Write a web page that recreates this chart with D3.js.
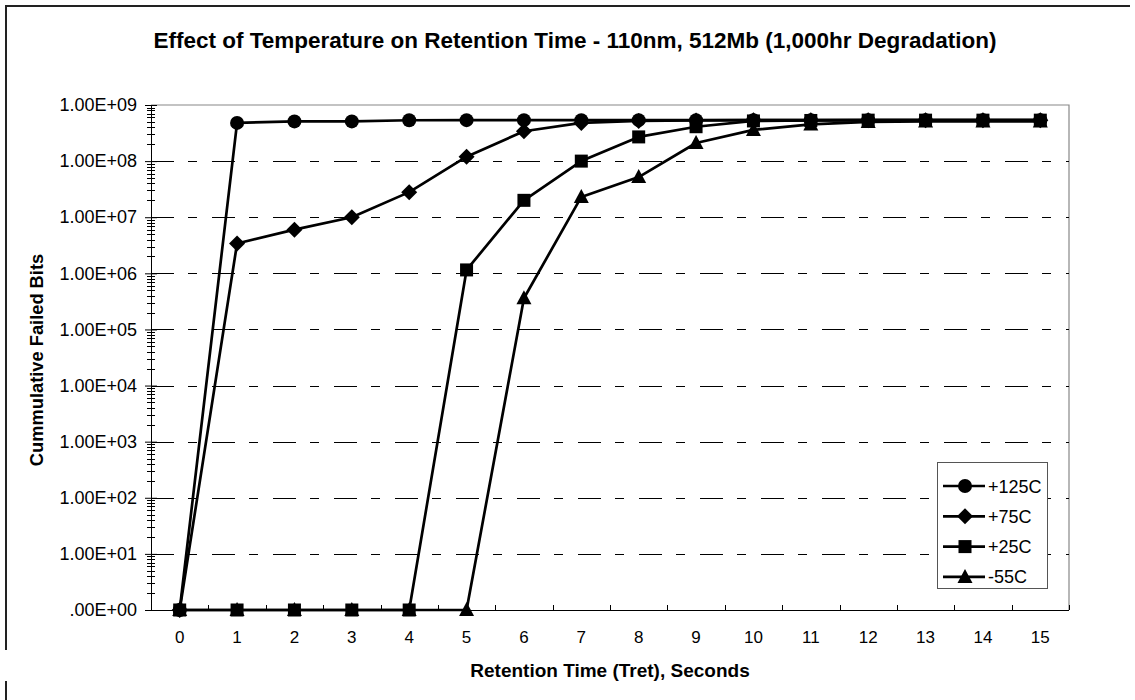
<!DOCTYPE html>
<html>
<head>
<meta charset="utf-8">
<script src="https://cdn.jsdelivr.net/npm/d3@7"></script>
<style>
  html, body { margin: 0; padding: 0; background: #fff; }
  svg { display: block; font-family: "Liberation Sans", Arial, sans-serif; }
</style>
</head>
<body>
<svg id="chart" width="1135" height="700"></svg>
<script>
// Retention time (seconds) categories
const retentionTimes = [0, 1, 2, 3, 4, 5, 6, 7, 8, 9, 10, 11, 12, 13, 14, 15];

// Cumulative failed bits per temperature
const temp125 = [1, 4.8e8, 5.1e8, 5.1e8, 5.35e8, 5.37e8, 5.37e8, 5.37e8, 5.37e8, 5.37e8, 5.37e8, 5.37e8, 5.37e8, 5.37e8, 5.37e8, 5.37e8];
const temp75  = [1, 3.4e6, 6.0e6, 1.0e7, 2.8e7, 1.2e8, 3.4e8, 4.8e8, 5.2e8, 5.3e8, 5.37e8, 5.37e8, 5.37e8, 5.37e8, 5.37e8, 5.37e8];
const temp25  = [1, 1, 1, 1, 1, 1.15e6, 2.0e7, 1.0e8, 2.7e8, 4.1e8, 5.2e8, 5.3e8, 5.37e8, 5.37e8, 5.37e8, 5.37e8];
const tempM55 = [1, 1, 1, 1, 1, 1, 3.6e5, 2.3e7, 5.2e7, 2.1e8, 3.6e8, 4.5e8, 5.0e8, 5.1e8, 5.1e8, 5.1e8];

const seriesNames = ["+125C", "+75C", "+25C", "-55C"];
const seriesSymbols = ["circle", "diamond", "square", "triangle"];

// Y axis tick values (decades) and their labels
const yTickValues = [1, 1e1, 1e2, 1e3, 1e4, 1e5, 1e6, 1e7, 1e8, 1e9];
const yTickLabels = [".00E+00", "1.00E+01", "1.00E+02", "1.00E+03", "1.00E+04",
                     "1.00E+05", "1.00E+06", "1.00E+07", "1.00E+08", "1.00E+09"];

const titleText = "Effect of Temperature on Retention Time - 110nm, 512Mb (1,000hr Degradation)";
const xTitle = "Retention Time (Tret), Seconds";
const yTitle = "Cummulative Failed Bits";

const seriesValues = [temp125, temp75, temp25, tempM55];

const svg = d3.select("#chart");
const plot = { left: 151, right: 1069, top: 105, bottom: 610 };

// outer frame pieces
svg.append("line").attr("x1", 6).attr("x2", 1130).attr("y1", 6).attr("y2", 6)
  .attr("stroke", "#222").attr("stroke-width", 2);
svg.append("line").attr("x1", 6).attr("x2", 6).attr("y1", 5).attr("y2", 650)
  .attr("stroke", "#222").attr("stroke-width", 2);
svg.append("line").attr("x1", 6).attr("x2", 6).attr("y1", 681).attr("y2", 700)
  .attr("stroke", "#222").attr("stroke-width", 2);

const x = d3.scaleBand().domain(retentionTimes).range([plot.left, plot.right]);
const xc = d => x(d) + x.bandwidth() / 2;
const y = d3.scaleLog().domain([1, 1e9]).range([plot.bottom, plot.top]);

// plot-area border (top and right)
svg.append("path")
  .attr("d", `M${plot.left},${plot.top}H${plot.right}V${plot.bottom}`)
  .attr("fill", "none").attr("stroke", "#888").attr("stroke-width", 1.2);

// dashed gridlines at each decade
svg.append("g").selectAll("line")
  .data(yTickValues.filter(v => v > 1 && v < 1e9))
  .join("line")
  .attr("x1", plot.left).attr("x2", plot.right)
  .attr("y1", d => Math.round(y(d)) + 0.5).attr("y2", d => Math.round(y(d)) + 0.5)
  .attr("stroke", "#000").attr("stroke-width", 1)
  .attr("stroke-dasharray", "23,14,9,15");

// Y axis with major ticks crossing the axis
const yAxis = d3.axisLeft(y).tickValues(yTickValues)
  .tickFormat((d, i) => yTickLabels[i]).tickSizeInner(6).tickSizeOuter(0).tickPadding(8);
const gy = svg.append("g").attr("transform", `translate(${plot.left},0)`).call(yAxis);
gy.select(".domain").attr("stroke", "#000");
gy.selectAll(".tick line").attr("x1", -6).attr("x2", 6);
gy.selectAll(".tick text").attr("font-size", 18).attr("fill", "#000")
  .attr("font-family", "'Liberation Sans', Arial, sans-serif");

// minor ticks 2..9 in each decade
const minor = [];
for (let e = 0; e < 9; e++) for (let m = 2; m <= 9; m++) minor.push(m * Math.pow(10, e));
svg.append("g").selectAll("line").data(minor).join("line")
  .attr("x1", plot.left - 4).attr("x2", plot.left + 4)
  .attr("y1", d => Math.round(y(d)) + 0.5).attr("y2", d => Math.round(y(d)) + 0.5)
  .attr("stroke", "#000").attr("stroke-width", 1);

// X axis: labels centered on categories, ticks at category boundaries
svg.append("line").attr("x1", plot.left).attr("x2", plot.right)
  .attr("y1", plot.bottom + 0.5).attr("y2", plot.bottom + 0.5).attr("stroke", "#000");
svg.append("g").selectAll("line").data(retentionTimes.slice(1).concat([null]))
  .join("line")
  .attr("x1", (d, i) => Math.round(x(retentionTimes[0]) + (i + 1) * x.bandwidth()) + 0.5)
  .attr("x2", (d, i) => Math.round(x(retentionTimes[0]) + (i + 1) * x.bandwidth()) + 0.5)
  .attr("y1", plot.bottom).attr("y2", plot.bottom - 5)
  .attr("stroke", "#000");
svg.append("g").selectAll("text").data(retentionTimes).join("text")
  .attr("x", d => xc(d)).attr("y", 643)
  .attr("text-anchor", "middle").attr("font-size", 17).attr("fill", "#000")
  .text(d => d);

// series lines and markers
const line = d3.line().x((d, i) => xc(retentionTimes[i])).y(d => y(d));
function drawSymbol(g, type, cx, cy) {
  if (type === "circle") {
    g.append("circle").attr("cx", cx).attr("cy", cy).attr("r", 7).attr("fill", "#000");
  } else if (type === "diamond") {
    g.append("path").attr("transform", `translate(${cx},${cy})`)
      .attr("d", "M0,-8L8,0L0,8L-8,0Z").attr("fill", "#000");
  } else if (type === "square") {
    g.append("rect").attr("x", cx - 6.5).attr("y", cy - 6.5).attr("width", 13).attr("height", 13).attr("fill", "#000");
  } else {
    g.append("path").attr("transform", `translate(${cx},${cy})`)
      .attr("d", "M0,-8L7.5,6L-7.5,6Z").attr("fill", "#000");
  }
}

seriesValues.forEach((vals, si) => {
  const g = svg.append("g");
  g.append("path").datum(vals).attr("d", line)
    .attr("fill", "none").attr("stroke", "#000").attr("stroke-width", 2.7)
    .attr("stroke-linejoin", "round");
  vals.forEach((v, i) => drawSymbol(g, seriesSymbols[si], xc(retentionTimes[i]), y(v)));
});

// legend
const legend = svg.append("g");
legend.append("rect").attr("x", 937.5).attr("y", 462.5).attr("width", 110).attr("height", 126)
  .attr("fill", "#fff").attr("stroke", "#555").attr("stroke-width", 1);
seriesNames.forEach((name, i) => {
  const ly = 486 + i * 30.3;
  legend.append("line").attr("x1", 943).attr("x2", 985).attr("y1", ly).attr("y2", ly)
    .attr("stroke", "#000").attr("stroke-width", 2.7);
  drawSymbol(legend, seriesSymbols[i], 965, ly);
  legend.append("text").attr("x", 988).attr("y", ly + 6.5).attr("font-size", 18)
    .attr("fill", "#000").text(name);
});

// titles
svg.append("text").attr("x", 575).attr("y", 48).attr("text-anchor", "middle")
  .attr("font-size", 22.5).attr("font-weight", "bold").attr("fill", "#000").text(titleText);
svg.append("text").attr("x", 610).attr("y", 677).attr("text-anchor", "middle")
  .attr("font-size", 19).attr("font-weight", "bold").attr("fill", "#000").text(xTitle);
svg.append("text").attr("transform", "translate(43,360) rotate(-90)").attr("text-anchor", "middle")
  .attr("font-size", 18.3).attr("font-weight", "bold").attr("fill", "#000").text(yTitle);
</script>
</body>
</html>
